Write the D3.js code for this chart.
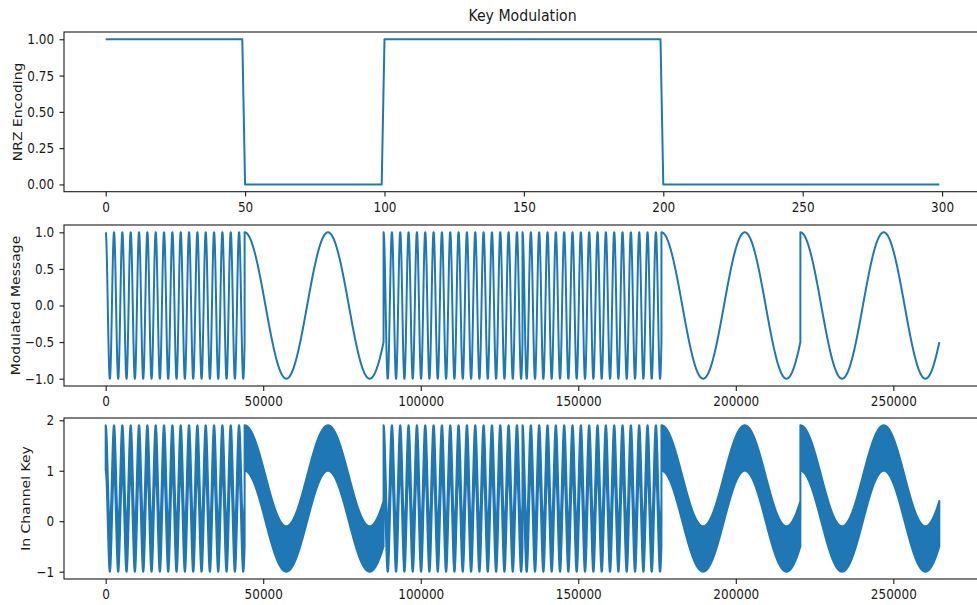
<!DOCTYPE html>
<html>
<head>
<meta charset="utf-8">
<script src="https://cdn.jsdelivr.net/npm/d3@7"></script>
<style>
  body { margin: 0; background: #fff; }
  text { font-family: "DejaVu Sans", sans-serif; fill: #1a1a1a; }
</style>
</head>
<body>
<svg id="chart"></svg>
<script>
// bit pattern and how it was sampled / modulated
const bits = [1, 0, 1, 1, 0, 0];
const nrzSamplesPerBit = 50;
const samplesPerBit = 44100;
const cyclesPerBit = [5 / 3, 50 / 3];   // cycles of the tone for bit 0 / bit 1
const channelBand = 0.9;                 // height of the in-channel carrier band above the message

// tick labels
const nrzXTicks = [0, 50, 100, 150, 200, 250, 300];
const nrzYTicks = [0, 0.25, 0.5, 0.75, 1];
const sampleXTicks = [0, 50000, 100000, 150000, 200000, 250000];
const msgYTicks = [-1, -0.5, 0, 0.5, 1];
const keyYTicks = [-1, 0, 1, 2];

const W = 977, H = 605;
const left = 64, right = 981;   // right spine sits just off the picture
const blue = "#1f77b4";
const sx = 0.86;                // text in the picture is squeezed horizontally

const svg = d3.select("#chart").attr("width", W).attr("height", H);

// ---- data ----
const nrz = d3.range(bits.length * nrzSamplesPerBit)
  .map(i => ({n: i, v: bits[Math.floor(i / nrzSamplesPerBit)]}));

const step = 15;
const message = [];
bits.forEach((b, i) => {
  const c = cyclesPerBit[b];
  const push = k => message.push({n: i * samplesPerBit + k, v: Math.cos(2 * Math.PI * c * k / samplesPerBit)});
  let k = 0;
  for (; k < samplesPerBit; k += step) push(k);
  if (k - step !== samplesPerBit - 1) push(samplesPerBit - 1);
});

// ---- helpers ----
function frame(top, bottom) {
  svg.append("rect")
    .attr("x", left).attr("y", top)
    .attr("width", right - left).attr("height", bottom - top)
    .attr("fill", "none").attr("stroke", "#1a1a1a").attr("stroke-width", 1.1);
}

function styleAxis(ax) {
  ax.select(".domain").remove();
  ax.selectAll("line").attr("stroke", "#1a1a1a").attr("stroke-width", 1.1);
  ax.selectAll("text")
    .attr("font-size", 14)
    .attr("font-family", "DejaVu Sans, sans-serif")
    .attr("fill", "#1a1a1a")
    .attr("transform", `scale(${sx},1)`);
}

function xAxis(scale, ticks, bottom) {
  const ax = svg.append("g")
    .attr("transform", `translate(0,${bottom})`)
    .call(d3.axisBottom(scale).tickValues(ticks).tickFormat(d3.format("d"))
      .tickSize(4.9).tickPadding(5.5).tickSizeOuter(0));
  styleAxis(ax);
}

function yAxis(scale, ticks, fmt) {
  const ax = svg.append("g")
    .attr("transform", `translate(${left},0)`)
    .call(d3.axisLeft(scale).tickValues(ticks).tickFormat(fmt)
      .tickSize(4.5).tickPadding(7).tickSizeOuter(0));
  styleAxis(ax);
}

function yLabel(text, bx, top, bottom) {
  svg.append("text")
    .attr("transform", `translate(${bx},${(top + bottom) / 2}) scale(${sx},1) rotate(-90)`)
    .attr("text-anchor", "middle")
    .attr("font-size", 14)
    .text(text);
}

// ---- panel 1: NRZ encoding ----
const p1 = {top: 32, bottom: 191.7};
const x1 = d3.scaleLinear().domain([-14.95, 313.95]).range([left, right]);
const y1 = d3.scaleLinear().domain([-0.05, 1.05]).range([p1.bottom, p1.top]);

svg.append("path")
  .datum(nrz)
  .attr("fill", "none").attr("stroke", blue).attr("stroke-width", 2)
  .attr("stroke-linejoin", "round")
  .attr("d", d3.line().x(d => x1(d.n)).y(d => y1(d.v)));

frame(p1.top, p1.bottom);
xAxis(x1, nrzXTicks, p1.bottom);
yAxis(y1, nrzYTicks, d3.format(".2f"));
yLabel("NRZ Encoding", 22.3, p1.top, p1.bottom);

svg.append("text")
  .attr("transform", `translate(${(left + right) / 2},21) scale(${sx},1)`)
  .attr("text-anchor", "middle")
  .attr("font-size", 16.4)
  .text("Key Modulation");

// ---- panel 2: modulated message ----
const total = bits.length * samplesPerBit - 1;
const xs = d3.scaleLinear().domain([-0.05 * total, total * 1.05]).range([left, right]);

const p2 = {top: 225, bottom: 386};
const y2 = d3.scaleLinear().domain([-1.1, 1.1]).range([p2.bottom, p2.top]);

svg.append("path")
  .datum(message)
  .attr("fill", "none").attr("stroke", blue).attr("stroke-width", 2)
  .attr("stroke-linejoin", "round")
  .attr("d", d3.line().x(d => xs(d.n)).y(d => y2(d.v)));

frame(p2.top, p2.bottom);
xAxis(xs, sampleXTicks, p2.bottom);
yAxis(y2, msgYTicks, d3.format(".1f"));
yLabel("Modulated Message", 20, p2.top, p2.bottom);

// ---- panel 3: in channel key (message plus dense carrier band) ----
const p3 = {top: 418, bottom: 579};
const kmin = -1, kmax = 1 + channelBand, kpad = 0.05 * (kmax - kmin);
const y3 = d3.scaleLinear().domain([kmin - kpad, kmax + kpad]).range([p3.bottom, p3.top]);

svg.append("path")
  .datum(message)
  .attr("fill", blue).attr("stroke", blue).attr("stroke-width", 2)
  .attr("stroke-linejoin", "round")
  .attr("d", d3.area().x(d => xs(d.n)).y0(d => y3(d.v)).y1(d => y3(d.v + channelBand)));

frame(p3.top, p3.bottom);
xAxis(xs, sampleXTicks, p3.bottom);
yAxis(y3, keyYTicks, d3.format("d"));
yLabel("In Channel Key", 30.3, p3.top, p3.bottom);
</script>
</body>
</html>
